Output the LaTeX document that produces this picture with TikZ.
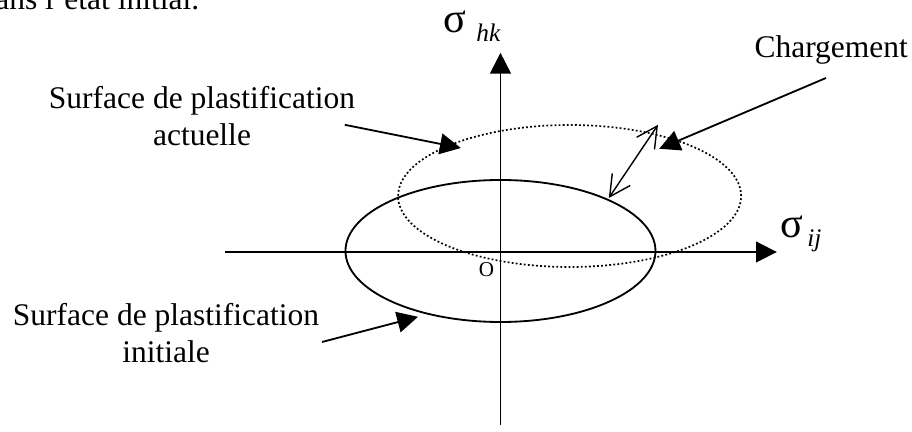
\documentclass[tikz,border=0pt]{standalone}
\usepackage{fontspec}
\setmainfont{Liberation Serif}
\usetikzlibrary{arrows.meta}

\begin{document}
\begin{tikzpicture}[every node/.style={font=\fontsize{11.2}{13.1}\selectfont, inner sep=0pt}, >={Triangle[length=2.6mm,width=2.6mm]}, line width=0.65pt]
	\useasboundingbox (0,0) rectangle (11.4,5.4);
	% axes
	\coordinate (O) at (6.256,2.25);
	\coordinate (xl) at (2.81,2.25);
	\coordinate (xr) at (9.71,2.25);
	\coordinate (yb) at (6.256,0.09);
	\coordinate (yt) at (6.256,4.74);
	\draw[->] (xl) -- (xr);
	\draw[->] (yb) -- (yt);
	\node[anchor=base] (shk) at (5.9,4.99) {\fontsize{15}{17}\selectfont σ\hspace{3.5pt}\raisebox{-3.2pt}{\fontsize{9}{10}\selectfont\itshape hk}};
	\node[anchor=base] (sij) at (10.01,2.43) {\fontsize{15}{17}\selectfont σ\hspace{1.5pt}\raisebox{-3pt}{\fontsize{9}{10}\selectfont\itshape ij}};
	\node[font=\fontsize{7.5}{8}\selectfont] (o) at (6.08,2.025) {O};
	% surfaces
	\coordinate (cini) at (6.256,2.2625);
	\coordinate (cact) at (7.12,2.95);
	\draw (cini) ellipse [x radius=1.9375, y radius=0.8875];
	\draw[line width=0.6pt, dash pattern=on 0.65pt off 0.8pt] (cact) ellipse [x radius=2.144, y radius=0.8875];
	% loading
	\coordinate (la) at (7.61,2.925);
	\coordinate (lb) at (8.225,3.84);
	\draw[line width=0.5pt, {Straight Barb[length=2.6mm,width=2.7mm]}-{Straight Barb[length=2.6mm,width=2.7mm]}] (la) -- (lb);
	% labels
	\node[align=center] (act) at (2.525,3.95) {Surface de plastification\\actuelle};
	\node[align=center] (ini) at (2.075,1.24) {Surface de plastification\\initiale};
	\node (chg) at (10.39,4.775) {Chargement};
	\node[anchor=base east] (prev) at (2.5,5.275) {dans l'état initial.};
	\coordinate (pact) at (4.31,3.84);
	\coordinate (tact) at (5.76,3.55);
	\coordinate (pini) at (4.025,1.125);
	\coordinate (tini) at (5.225,1.44);
	\coordinate (pchg) at (10.325,4.425);
	\coordinate (tchg) at (8.24,3.54);
	\draw[->] (pact) -- (tact);
	\draw[->] (pini) -- (tini);
	\draw[->] (pchg) -- (tchg);
\end{tikzpicture}
\end{document}
